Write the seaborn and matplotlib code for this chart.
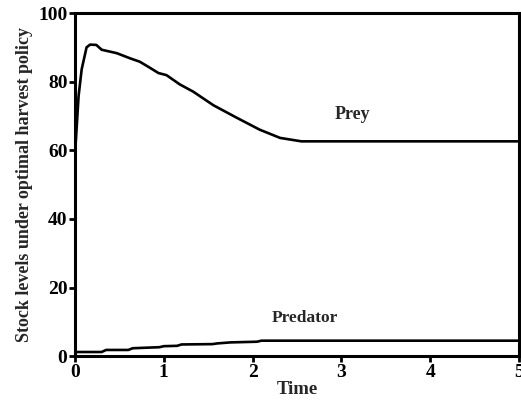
import matplotlib
matplotlib.use("Agg")
import matplotlib.pyplot as plt
import seaborn as sns
import pandas as pd

prey_time = [0.0, 0.01, 0.04, 0.075, 0.13, 0.17, 0.24, 0.30, 0.47, 0.62, 0.73, 0.84, 0.94,
             1.03, 1.18, 1.33, 1.56, 1.82, 2.08, 2.31, 2.55, 3.0, 4.0, 5.0]
prey_level = [60.0, 63.0, 75.8, 83.6, 90.0, 90.8, 90.7, 89.3, 88.3, 86.8, 85.8, 84.1, 82.5,
              81.9, 79.2, 77.1, 73.1, 69.5, 66.0, 63.6, 62.6, 62.6, 62.6, 62.6]

pred_time = [0.0, 0.30, 0.35, 0.60, 0.65, 0.95, 1.0, 1.15, 1.20, 1.55, 1.60, 1.75, 2.05, 2.10, 5.0]
pred_level = [1.2, 1.2, 1.8, 1.8, 2.3, 2.6, 2.9, 3.0, 3.4, 3.5, 3.7, 4.0, 4.2, 4.5, 4.5]

x_ticks = [0, 1, 2, 3, 4, 5]
y_ticks = [0, 20, 40, 60, 80, 100]

sns.set_theme(style="ticks")
plt.rcParams['font.family'] = ['Liberation Serif', 'DejaVu Serif']
plt.rcParams['font.weight'] = 'bold'

fig = plt.figure(figsize=(5.21, 4.07), dpi=100)
ax = fig.add_axes([0.144, 0.125, 0.852, 0.843])

prey_df = pd.DataFrame({"Time": prey_time, "Level": prey_level})
pred_df = pd.DataFrame({"Time": pred_time, "Level": pred_level})
sns.lineplot(data=prey_df, x="Time", y="Level", color="black", linewidth=1.9, ax=ax,
             estimator=None, sort=False)
sns.lineplot(data=pred_df, x="Time", y="Level", color="black", linewidth=1.9, ax=ax,
             estimator=None, sort=False)

ax.set_xlim(0, 5)
ax.set_ylim(0, 100)
ax.set_xticks(x_ticks)
ax.set_yticks(y_ticks)
ax.set_xticklabels([str(v) for v in x_ticks], fontsize=14, fontweight='bold')
ax.set_yticklabels([str(v) for v in y_ticks], fontsize=14, fontweight='bold')
ax.tick_params(axis='both', direction='out', length=4, width=2, pad=1.5, colors='black')
for s in ax.spines.values():
    s.set_linewidth(2.2)
    s.set_color('black')
    s.set_visible(True)

ax.set_xlabel("Time", fontsize=13.5, fontweight='bold', labelpad=0)
ax.set_ylabel("Stock levels under optimal harvest policy", fontsize=13, fontweight='bold', labelpad=4)

ax.text(3.12, 70.5, "Prey", ha='center', va='center', fontsize=13, fontweight='bold')
ax.text(2.59, 11, "Predator", ha='center', va='center', fontsize=12.5, fontweight='bold')

fig.savefig("out.png", dpi=100)
